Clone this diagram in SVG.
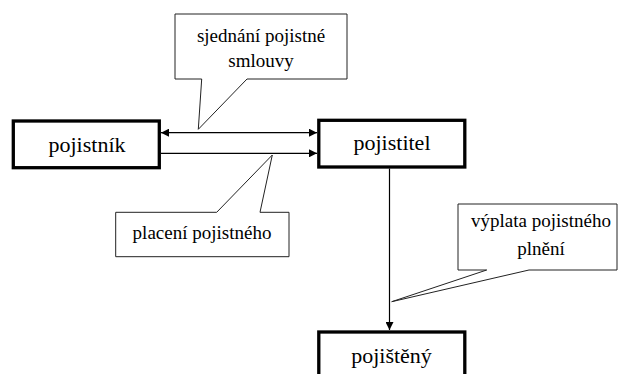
<svg xmlns="http://www.w3.org/2000/svg" width="621" height="374" viewBox="0 0 621 374">
<style>
.node{fill:#fff;stroke:#000;stroke-width:3.3}
.lbl{font-family:"Liberation Serif",Tinos,"Noto Serif","DejaVu Serif",Times,FreeSerif,serif;font-size:22px;fill:#000;text-anchor:middle}
.call{fill:#fff;stroke:#222;stroke-width:1}
.ctext{font-family:"Liberation Serif",Tinos,"Noto Serif","DejaVu Serif",Times,FreeSerif,serif;font-size:19px;fill:#000;text-anchor:middle}
.conn{stroke:#000;stroke-width:1.2;fill:none}
</style>
<defs>
<marker id="ah" viewBox="0 0 10 10" refX="10" refY="5" markerWidth="9" markerHeight="8" markerUnits="userSpaceOnUse" orient="auto-start-reverse">
<path d="M0,0 L10,5 L0,10 Z" fill="#000"/>
</marker>
</defs>
<rect width="621" height="374" fill="#fff"/>
<g id="connectors">
<line class="conn" x1="161" y1="132.7" x2="317" y2="132.7" marker-start="url(#ah)" marker-end="url(#ah)"/>
<line class="conn" x1="161" y1="153.3" x2="317" y2="153.3" marker-end="url(#ah)"/>
<line class="conn" x1="389.5" y1="168.5" x2="389.5" y2="330" marker-end="url(#ah)"/>
</g>
<g id="callout-sjednani">
<polygon class="call" points="175,14 347,14 347,79 247,79 198.3,129.3 201.7,79 175,79"/>
<text class="ctext" x="261" y="41.5">sjednání pojistné</text>
<text class="ctext" x="261" y="67">smlouvy</text>
</g>
<g id="callout-placeni">
<polygon class="call" points="115.7,212.3 216.7,212.3 272.3,155 260,212.3 289,212.3 289,256.7 115.7,256.7"/>
<text class="ctext" x="202" y="239">placení pojistného</text>
</g>
<g id="callout-vyplata">
<polygon class="call" points="458,204 617,204 617,270 529,270 391.7,301.7 486.7,270 458,270"/>
<text class="ctext" x="541" y="227">výplata pojistného</text>
<text class="ctext" x="541" y="255">plnění</text>
</g>
<g id="pojistnik">
<rect class="node" x="13.3" y="121" width="146" height="46.7"/>
<text class="lbl" x="87" y="151.5">pojistník</text>
</g>
<g id="pojistitel">
<rect class="node" x="318.8" y="120.3" width="146" height="46.7"/>
<text class="lbl" x="392" y="150">pojistitel</text>
</g>
<g id="pojisteny">
<rect class="node" x="318.8" y="332" width="146" height="60"/>
<text class="lbl" x="391.5" y="363">pojištěný</text>
</g>
</svg>
